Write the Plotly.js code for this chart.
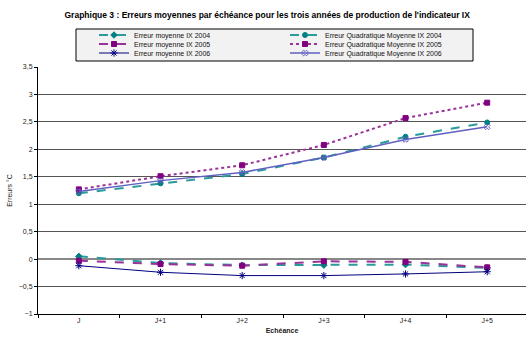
<!DOCTYPE html>
<html><head><meta charset="utf-8">
<script src="https://cdn.plot.ly/plotly-3.0.1.min.js"></script>
<style>html,body{margin:0;padding:0;background:#fff}#c{width:526px;height:340px}</style>
</head><body><div id="c"></div>
<script>
var categories = ['J','J+1','J+2','J+3','J+4','J+5'];
var em2004 = [0.05, -0.07, -0.11, -0.11, -0.10, -0.16];
var eqm2004 = [1.20, 1.38, 1.55, 1.85, 2.23, 2.49];
var em2005 = [-0.03, -0.09, -0.12, -0.04, -0.05, -0.15];
var eqm2005 = [1.27, 1.51, 1.71, 2.08, 2.57, 2.85];
var em2006 = [-0.12, -0.24, -0.30, -0.30, -0.27, -0.23];
var eqm2006 = [1.23, 1.43, 1.58, 1.85, 2.18, 2.41];
var names = ['Erreur moyenne IX 2004','Erreur Quadratique Moyenne IX 2004',
             'Erreur moyenne IX 2005','Erreur Quadratique Moyenne IX 2005',
             'Erreur moyenne IX 2006','Erreur Quadratique Moyenne IX 2006'];

function tr(y, name, color, dash, width, symbol, mcolor, msize, leg){
  return {x: categories, y: y, name: name, type: 'scatter', mode: 'lines+markers', legend: leg,
    line: {color: color, dash: dash, width: width},
    marker: {symbol: symbol, color: mcolor, size: msize, line: {color: mcolor, width: 1}}};
}
var data = [
  tr(em2004, names[0], '#2a9a9a', 'dash', 2, 'diamond', '#008080', 5, 'legend'),
  tr(eqm2004, names[1], '#2a9a9a', 'dash', 2, 'circle', '#008080', 5, 'legend'),
  tr(em2005, names[2], '#993399', 'dash', 2, 'square', '#800080', 5, 'legend2'),
  tr(eqm2005, names[3], '#993399', 'dot', 2, 'square', '#800080', 5, 'legend2'),
  tr(em2006, names[4], '#000080', 'solid', 1, 'asterisk-open', '#000080', 6, 'legend3'),
  tr(eqm2006, names[5], '#6060c0', 'solid', 1.5, 'x-open', '#6060c0', 5, 'legend3')
];
function leg(yc){
  return {orientation: 'h', x: (94-38)/488, xanchor: 'left', y: (314-yc)/247, yanchor: 'middle',
    bgcolor: 'rgba(0,0,0,0)', borderwidth: 0, font: {size: 7, color: '#111'},
    entrywidth: 146, entrywidthmode: 'pixels', tracegroupgap: 0, itemwidth: 30};
}
var layout = {
  width: 526, height: 340,
  margin: {l: 38, r: 0, t: 67, b: 26, autoexpand: false},
  paper_bgcolor: '#ffffff', plot_bgcolor: '#ffffff',
  separators: ', ',
  font: {family: 'Liberation Sans, Arial, sans-serif', size: 7, color: '#222'},
  title: {text: "<b>Graphique 3 : Erreurs moyennes par échéance pour les trois années de production de l'indicateur IX</b>",
    font: {size: 8.5, color: '#000'}, x: 0.508, xanchor: 'center', y: 0.955, yanchor: 'middle'},
  showlegend: true,
  legend: leg(35), legend2: leg(44), legend3: leg(53),
  shapes: [{type: 'rect', xref: 'paper', yref: 'paper', x0: (76-38)/488, x1: (473-38)/488,
    y0: (314-61)/247, y1: (314-29)/247, fillcolor: '#f2f2f2', line: {color: '#000', width: 1}, layer: 'below'}],
  xaxis: {type: 'category', range: [-0.5, 5.475], showgrid: false, zeroline: false,
    showline: true, linecolor: '#000', linewidth: 1, ticks: 'outside', ticklen: 3,
    tickcolor: '#000', tickson: 'boundaries', tickfont: {size: 7, color: '#222'},
    title: {text: '<b>Echéance</b>', font: {size: 7, color: '#222'}, standoff: 4}},
  yaxis: {range: [-1, 3.5], dtick: 0.5, tick0: 0, showgrid: true, gridcolor: '#555', gridwidth: 1,
    zeroline: true, zerolinecolor: '#888', zerolinewidth: 2,
    showline: true, linecolor: '#000', linewidth: 1, ticks: 'outside', ticklen: 3, tickcolor: '#000',
    tickfont: {size: 7, color: '#222'},
    title: {text: 'Erreurs °C', font: {size: 7, color: '#222'}, standoff: 5}}
};
Plotly.newPlot('c', data, layout, {displayModeBar: false, staticPlot: true});
</script></body></html>
